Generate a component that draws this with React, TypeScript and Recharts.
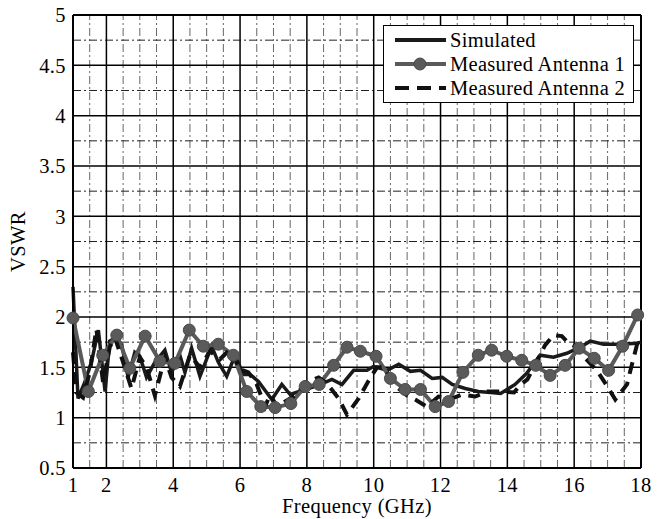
import React from 'react';
import {
  LineChart,
  Line,
  XAxis,
  YAxis,
  ReferenceLine,
  Legend,
} from 'recharts';

// frequency (GHz) / VSWR
const simFreq = [
  1.0, 1.15, 1.35, 1.55, 1.76, 1.96, 2.1, 2.3, 2.46, 2.65, 2.85, 3.0, 3.2, 3.45, 3.75, 3.95,
  4.2, 4.35, 4.55, 4.8, 5.15, 5.35, 5.6, 5.85, 6.1, 6.3, 6.55, 6.95, 7.25, 7.5, 8.05, 8.4,
  8.75, 9.05, 9.4, 9.8, 10.0, 10.4, 10.75, 11.1, 11.4, 11.75, 12.05, 12.35, 12.74, 13.13,
  13.5, 13.8, 14.23, 14.58, 14.98, 15.38, 15.78, 16.18, 16.48, 16.88, 17.38, 17.88, 18.0,
];
const simVswr = [
  2.3, 1.19, 1.35, 1.55, 1.87, 1.26, 1.76, 1.8, 1.72, 1.4, 1.65, 1.61, 1.4, 1.55, 1.67, 1.45,
  1.62, 1.45, 1.69, 1.41, 1.71, 1.55, 1.41, 1.62, 1.43, 1.43, 1.36, 1.18, 1.33, 1.23, 1.29, 1.33,
  1.38, 1.33, 1.47, 1.47, 1.51, 1.47, 1.53, 1.46, 1.47, 1.39, 1.4, 1.33, 1.29, 1.26,
  1.25, 1.24, 1.33, 1.44, 1.62, 1.6, 1.64, 1.7, 1.76, 1.73, 1.73, 1.74, 1.75,
];

const meas1Freq = [
  1.0, 1.46, 1.89, 2.31, 2.7, 3.16, 3.6, 4.05, 4.48, 4.9, 5.35, 5.8, 6.2, 6.62, 7.05, 7.52,
  7.95, 8.37, 8.8, 9.2, 9.6, 10.07, 10.5, 10.94, 11.4, 11.84, 12.24, 12.67, 13.13, 13.53,
  13.98, 14.43, 14.85, 15.28, 15.73, 16.15, 16.6, 17.03, 17.45, 17.9,
];
const meas1Vswr = [
  1.99, 1.26, 1.62, 1.82, 1.49, 1.81, 1.56, 1.54, 1.87, 1.71, 1.73, 1.62, 1.26, 1.11, 1.1, 1.14,
  1.31, 1.33, 1.52, 1.7, 1.66, 1.61, 1.39, 1.28, 1.28, 1.11, 1.16, 1.45, 1.62, 1.67,
  1.61, 1.57, 1.52, 1.42, 1.52, 1.69, 1.59, 1.47, 1.71, 2.02,
];

const meas2Freq = [
  1.0, 1.1, 1.3, 1.5, 1.7, 1.9, 2.1, 2.25, 2.5, 2.75, 3.0, 3.2, 3.45, 3.75, 3.95, 4.2, 4.5,
  4.8, 5.1, 5.4, 5.7, 6.0, 6.25, 6.5, 6.75, 6.9, 7.1, 7.35, 7.7, 7.95, 8.35, 8.6, 8.95, 9.2,
  9.55, 9.85, 10.1, 10.3, 10.44, 10.74, 11.0, 11.24, 11.59, 11.94, 12.34, 12.64, 13.04, 13.4,
  13.8, 14.2, 14.4, 14.6, 14.93, 15.13, 15.38, 15.63, 15.83, 16.13, 16.33, 16.68, 17.03,
  17.23, 17.58, 17.73, 17.93, 18.0,
];
const meas2Vswr = [
  1.65, 1.25, 1.2, 1.45, 1.88, 1.35, 1.7, 1.8, 1.55, 1.29, 1.6, 1.5, 1.22, 1.6, 1.4, 1.31, 1.62,
  1.5, 1.66, 1.58, 1.68, 1.48, 1.45, 1.33, 1.11, 1.23, 1.11, 1.16, 1.23, 1.35, 1.4, 1.34, 1.19, 1.03,
  1.19, 1.37, 1.5, 1.5, 1.43, 1.29, 1.22, 1.18, 1.11, 1.21, 1.19, 1.23, 1.21, 1.26,
  1.26, 1.25, 1.33, 1.38, 1.59, 1.72, 1.82, 1.81, 1.74, 1.69, 1.59, 1.47, 1.29,
  1.18, 1.33, 1.53, 1.79, 1.78,
];

const freqTicks = [1, 2, 4, 6, 8, 10, 12, 14, 16, 18];
const vswrTicks = [0.5, 1, 1.5, 2, 2.5, 3, 3.5, 4, 4.5, 5];
const freqMinor = [
  1.5, 2.5, 3, 3.5, 4.5, 5, 5.5, 6.5, 7, 7.5, 8.5, 9, 9.5, 10.5, 11, 11.5,
  12.5, 13, 13.5, 14.5, 15, 15.5, 16.5, 17, 17.5,
];
const vswrMinor = [0.75, 1.25, 1.75, 2.25, 2.75, 3.25, 3.75, 4.25, 4.75];

const seriesNames = ['Simulated', 'Measured Antenna 1', 'Measured Antenna 2'];

const toPoints = (f: number[], v: number[]) => f.map((x, i) => ({ f: x, v: v[i] }));
const simData = toPoints(simFreq, simVswr);
const meas1Data = toPoints(meas1Freq, meas1Vswr);
const meas2Data = toPoints(meas2Freq, meas2Vswr);

const FONT = 'Liberation Serif, Times New Roman, serif';
const textStyle = { fill: '#000', fontSize: 20.5, fontFamily: FONT, letterSpacing: 0.4 };

function LegendBox() {
  const rows = [
    { name: seriesNames[0], color: '#1a1a1a', dash: undefined, dot: false },
    { name: seriesNames[1], color: '#5a5a5a', dash: undefined, dot: true },
    { name: seriesNames[2], color: '#111', dash: '14 8', dot: false },
  ];
  return (
    <div
      style={{
        border: '1px solid #000',
        background: '#fff',
        padding: '2px 0',
        fontFamily: FONT,
        fontSize: 20.5,
        letterSpacing: 0.3,
        color: '#000',
        lineHeight: '24px',
      }}
    >
      {rows.map((r) => (
        <div key={r.name} style={{ display: 'flex', alignItems: 'center', height: 24 }}>
          <svg width={66} height={20} style={{ flex: 'none' }}>
            <line x1={11} y1={10} x2={62} y2={10} stroke={r.color} strokeWidth={4} strokeDasharray={r.dash} />
            {r.dot && <circle cx={36} cy={10} r={6} fill="#5a5a5a" stroke="#4a4a4a" />}
          </svg>
          <span style={{ whiteSpace: 'nowrap' }}>{r.name}</span>
        </div>
      ))}
    </div>
  );
}

export default function App() {
  return (
    <div style={{ width: 666, height: 519, background: '#fff', position: 'relative' }}>
      <style>{`body{margin:0;background:#fff}`}</style>
      <LineChart width={666} height={519} margin={{ top: 15, right: 25, left: 0, bottom: 0 }}>
        {freqMinor.map((x) => (
          <ReferenceLine key={'vx' + x} x={x} stroke="#666" strokeWidth={1} strokeDasharray="8 3 2 3" />
        ))}
        {vswrMinor.map((y) => (
          <ReferenceLine key={'hy' + y} y={y} stroke="#222" strokeWidth={1} strokeDasharray="8 3 2 3" />
        ))}
        {freqTicks.map((x) => (
          <ReferenceLine key={'mx' + x} x={x} stroke="#000" strokeWidth={1.5} />
        ))}
        {vswrTicks.map((y) => (
          <ReferenceLine key={'my' + y} y={y} stroke="#000" strokeWidth={1.5} />
        ))}
        <XAxis
          dataKey="f"
          type="number"
          domain={[1, 18]}
          ticks={freqTicks}
          allowDuplicatedCategory={false}
          height={51}
          tickSize={0}
          tickMargin={9}
          tick={textStyle}
          axisLine={{ stroke: '#000', strokeWidth: 2 }}
          label={{ value: 'Frequency (GHz)', position: 'insideBottom', offset: 6, style: textStyle }}
        />
        <YAxis
          dataKey="v"
          type="number"
          domain={[0.5, 5]}
          ticks={vswrTicks}
          width={73}
          tickSize={0}
          tickMargin={7}
          tick={textStyle}
          axisLine={{ stroke: '#000', strokeWidth: 2 }}
          label={{ value: 'VSWR', angle: -90, position: 'insideLeft', offset: 18, style: { ...textStyle, textAnchor: 'middle' } }}
        />
        <ReferenceLine x={18} stroke="#000" strokeWidth={2} />
        <ReferenceLine y={5} stroke="#000" strokeWidth={2} />
        <Line
          data={simData}
          dataKey="v"
          name={seriesNames[0]}
          type="linear"
          stroke="#1a1a1a"
          strokeWidth={3.5}
          dot={false}
          isAnimationActive={false}
        />
        <Line
          data={meas1Data}
          dataKey="v"
          name={seriesNames[1]}
          type="linear"
          stroke="#5a5a5a"
          strokeWidth={4}
          dot={{ r: 6, fill: '#5a5a5a', stroke: '#4a4a4a', strokeWidth: 1 }}
          isAnimationActive={false}
        />
        <Line
          data={meas2Data}
          dataKey="v"
          name={seriesNames[2]}
          type="linear"
          stroke="#111"
          strokeWidth={4}
          strokeDasharray="12 8"
          dot={false}
          isAnimationActive={false}
        />
        <Legend
          layout="horizontal"
          verticalAlign="middle"
          align="center"
          content={() => <LegendBox />}
          wrapperStyle={{ position: 'absolute', left: 383, top: 25, width: 251 }}
        />
      </LineChart>
    </div>
  );
}
